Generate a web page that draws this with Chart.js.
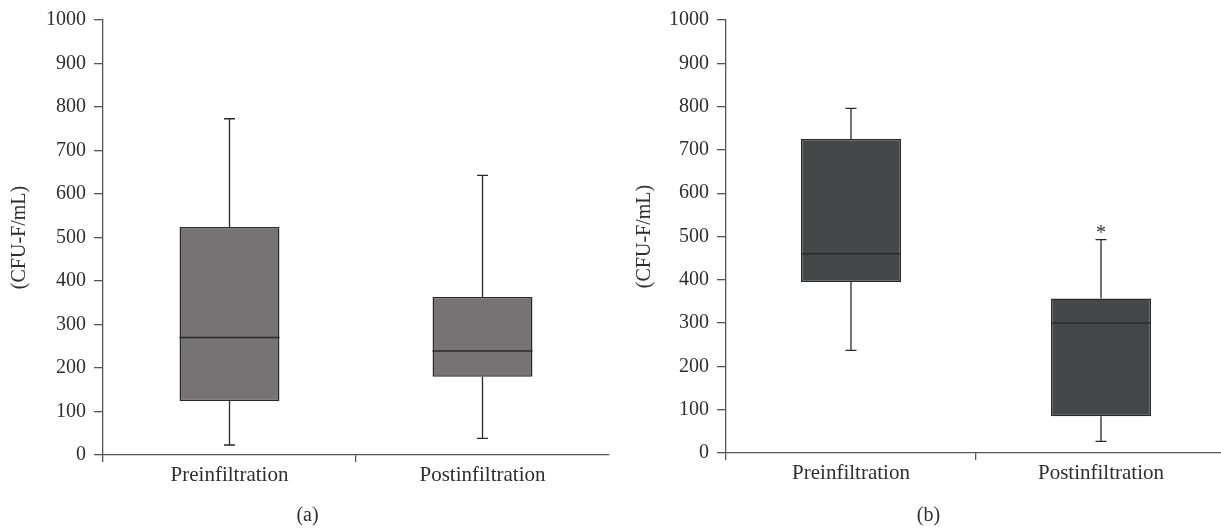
<!DOCTYPE html>
<html>
<head>
<meta charset="utf-8">
<script src="https://cdn.jsdelivr.net/npm/chart.js@4.4.1/dist/chart.umd.min.js"></script>
<style>
  html, body { margin: 0; padding: 0; background: #fff; overflow: hidden; }
  body { width: 1221px; height: 529px; position: relative; }
  canvas { position: absolute; top: 0; }
  #chartA { left: 0; }
  #chartB { left: 631px; }
</style>
</head>
<body>
<canvas id="chartA" width="615" height="529"></canvas>
<canvas id="chartB" width="595" height="529"></canvas>
<script>
const categories = ['Preinfiltration', 'Postinfiltration'];

// panel (a)
const aMin = [23, 38];
const aQ1 = [124, 180];
const aMedian = [270, 239];
const aQ3 = [524, 363];
const aMax = [773, 643];
const aMarks = ['', ''];

// panel (b)
const bMin = [237, 27];
const bQ1 = [395, 85];
const bMedian = [460, 300];
const bQ3 = [725, 357];
const bMax = [796, 493];
const bMarks = ['', '*'];

const FONT = "'Liberation Serif', 'DejaVu Serif', serif";
const TEXT = '#2e2e2e';
const AXIS = '#555555';
const EDGE = '#2a2a2a';

// whiskers, median line, marks and the panel caption
const boxPlugin = {
  id: 'boxParts',
  afterDatasetsDraw(chart, args, opts) {
    const ctx = chart.ctx;
    const y = chart.scales.y;
    const meta = chart.getDatasetMeta(0);
    ctx.save();
    ctx.strokeStyle = EDGE;
    meta.data.forEach((bar, i) => {
      const x = bar.x;
      const half = bar.width / 2;
      const cap = 5.5;
      // median
      ctx.lineWidth = 1.5;
      const ym = y.getPixelForValue(opts.median[i]);
      ctx.beginPath();
      ctx.moveTo(x - half, ym);
      ctx.lineTo(x + half, ym);
      ctx.stroke();
      // whiskers
      ctx.lineWidth = 1.3;
      const yTop = y.getPixelForValue(opts.max[i]);
      const yQ3 = y.getPixelForValue(opts.q3[i]);
      const yQ1 = y.getPixelForValue(opts.q1[i]);
      const yBot = y.getPixelForValue(opts.min[i]);
      ctx.beginPath();
      ctx.moveTo(x, yQ3); ctx.lineTo(x, yTop);
      ctx.moveTo(x - cap, yTop); ctx.lineTo(x + cap, yTop);
      ctx.moveTo(x, yQ1); ctx.lineTo(x, yBot);
      ctx.moveTo(x - cap, yBot); ctx.lineTo(x + cap, yBot);
      ctx.stroke();
      if (opts.marks[i]) {
        ctx.fillStyle = TEXT;
        ctx.font = '20px ' + FONT;
        ctx.textAlign = 'center';
        ctx.textBaseline = 'alphabetic';
        ctx.fillText(opts.marks[i], x, yTop - 1);
      }
    });
    ctx.fillStyle = TEXT;
    ctx.font = '20px ' + FONT;
    ctx.textAlign = 'center';
    ctx.textBaseline = 'middle';
    ctx.fillText(opts.caption, chart.width / 2, 516);
    ctx.restore();
  }
};

function makeBoxChart(id, d, look) {
  return new Chart(document.getElementById(id), {
    type: 'bar',
    data: {
      labels: categories,
      datasets: [{
        data: d.q1.map((v, i) => [v, d.q3[i]]),
        backgroundColor: look.fill,
        borderColor: EDGE,
        borderWidth: 1.5,
        borderSkipped: false,
        barPercentage: look.barPct,
        categoryPercentage: 1
      }]
    },
    options: {
      responsive: false,
      animation: false,
      layout: { padding: { top: look.top, right: look.right, left: 0, bottom: 0 } },
      scales: {
        x: {
          grid: {
            offset: true,
            drawOnChartArea: false,
            tickLength: 7,
            lineWidth: 1.3,
            // no tick at the far right end
            color: c => c.type === 'tick' ? AXIS : 'rgba(0,0,0,0)'
          },
          border: { color: AXIS, width: 1.3 },
          ticks: { color: TEXT, font: { family: FONT, size: 21 }, padding: 1 },
          afterFit: s => { s.height = look.xHeight; }
        },
        y: {
          min: 0,
          max: 1000,
          ticks: {
            stepSize: 100,
            color: TEXT,
            font: { family: FONT, size: 20 },
            padding: 8,
            callback: v => String(v)
          },
          grid: { drawOnChartArea: false, tickLength: 9, lineWidth: 1.3, color: AXIS },
          border: { color: AXIS, width: 1.3 },
          title: {
            display: true,
            text: '(CFU-F/mL)',
            color: TEXT,
            font: { family: FONT, size: 20 },
            padding: { top: look.titlePad, bottom: 0 }
          },
          afterFit: s => { s.width = look.yWidth; }
        }
      },
      plugins: {
        legend: { display: false },
        tooltip: { enabled: false },
        boxParts: d
      }
    },
    plugins: [boxPlugin]
  });
}

makeBoxChart('chartA',
  { min: aMin, q1: aQ1, median: aMedian, q3: aQ3, max: aMax, marks: aMarks, caption: '(a)' },
  { fill: '#777374', barPct: 0.395, top: 19, right: 6, xHeight: 74, yWidth: 103, titlePad: 8 });

makeBoxChart('chartB',
  { min: bMin, q1: bQ1, median: bMedian, q3: bQ3, max: bMax, marks: bMarks, caption: '(b)' },
  { fill: '#464749', barPct: 0.4, top: 16, right: 0, xHeight: 76, yWidth: 95, titlePad: 2 });
</script>
</body>
</html>
